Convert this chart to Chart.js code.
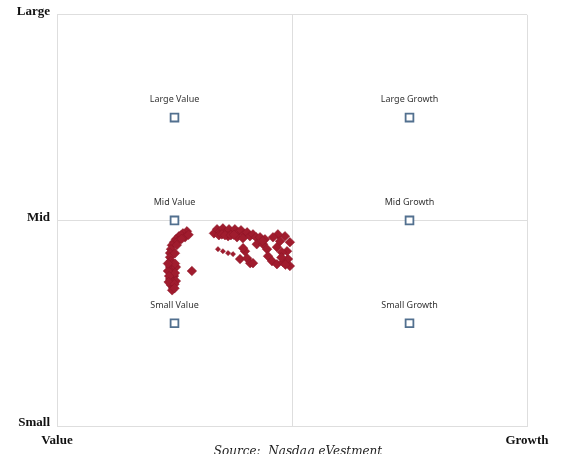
<!DOCTYPE html>
<html><head><meta charset="utf-8">
<script src="https://cdn.jsdelivr.net/npm/chart.js@4.4.1/dist/chart.umd.min.js"></script>
<style>html,body{margin:0;padding:0;background:#fff;overflow:hidden;width:563px;height:454px}canvas{display:block}</style>
</head><body>
<canvas id="c" width="563" height="454"></canvas>
<script>
// ---- data ----
const styleNames = ['Large Value','Large Growth','Mid Value','Mid Growth','Small Value','Small Growth'];
const styleX = [-0.5, 0.5, -0.5, 0.5, -0.5, 0.5];
const styleY = [0.5, 0.5, 0, 0, -0.5, -0.5];

const fundX = [
  -0.447,-0.464,-0.481,-0.494,-0.502,-0.511,-0.515,-0.519,-0.519,-0.515,-0.511,-0.519,-0.506,-0.515,-0.502,-0.519,-0.506,-0.515,-0.506,-0.494,-0.498,-0.494,-0.528,-0.523,-0.472,-0.455,-0.485,-0.426,
  -0.440,-0.470,-0.490,-0.498,-0.525,-0.500,-0.528,-0.498,-0.510,-0.500,
  -0.332,-0.319,-0.306,-0.294,-0.281,-0.268,-0.255,-0.243,-0.230,-0.217,-0.204,-0.191,-0.179,-0.166,-0.153,-0.311,-0.272,-0.234,-0.209,-0.298,-0.285,-0.260,-0.247,
  -0.221,-0.191,-0.200,-0.208,-0.178,-0.166,-0.150,
  -0.136,-0.123,-0.106,-0.102,-0.085,-0.064,-0.038,-0.017,-0.030,-0.060,-0.081,-0.009,-0.021,-0.043,-0.064,-0.009,-0.115,-0.051,-0.125,-0.045,-0.028
];
const fundY = [
  -0.053,-0.063,-0.077,-0.092,-0.106,-0.121,-0.140,-0.159,-0.179,-0.198,-0.213,-0.227,-0.237,-0.256,-0.271,-0.285,-0.300,-0.314,-0.329,-0.227,-0.256,-0.295,-0.246,-0.271,-0.072,-0.082,-0.101,-0.246,
  -0.070,-0.090,-0.120,-0.210,-0.300,-0.310,-0.210,-0.160,-0.340,-0.330,
  -0.063,-0.043,-0.053,-0.039,-0.058,-0.043,-0.063,-0.043,-0.058,-0.048,-0.068,-0.058,-0.077,-0.068,-0.082,-0.072,-0.077,-0.082,-0.087,-0.068,-0.072,-0.072,-0.070,
  -0.188,-0.184,-0.150,-0.135,-0.208,-0.208,-0.116,
  -0.082,-0.116,-0.140,-0.174,-0.198,-0.213,-0.203,-0.188,-0.077,-0.068,-0.082,-0.106,-0.150,-0.155,-0.130,-0.222,-0.092,-0.101,-0.100,-0.180,-0.215
];
// small dotted tail of funds below the middle group
const tailX = [-0.315, -0.294, -0.272, -0.251];
const tailY = [-0.140, -0.150, -0.159, -0.164];

const xTickValues = [-1, 0, 1];
const xTickLabels = ['Value', '', 'Growth'];
const yTickValues = [-1, 0, 1];
const yTickLabels = ['Small', 'Mid', 'Large'];
const sourceText = 'Source:  Nasdaq eVestment';

// ---- chart ----
const stylePts = styleX.map((x, i) => ({x: x, y: styleY[i]}));
const fundPts = fundX.map((x, i) => ({x: x, y: fundY[i]}));
const tailPts = tailX.map((x, i) => ({x: x, y: tailY[i]}));

const labelPlugin = {
  id: 'labels',
  afterDatasetsDraw(chart) {
    const ctx = chart.ctx;
    const meta = chart.getDatasetMeta(2);
    ctx.save();
    ctx.font = '9px "Noto Sans", sans-serif';
    ctx.fillStyle = '#333';
    ctx.textAlign = 'center';
    ctx.textBaseline = 'middle';
    meta.data.forEach((el, i) => {
      ctx.fillText(styleNames[i], el.x, el.y - 18);
    });
    ctx.font = 'italic 12px "DejaVu Serif", serif';
    ctx.fillStyle = '#222';
    ctx.textBaseline = 'top';
    ctx.fillText(sourceText, 298, 446);
    ctx.restore();
  }
};

new Chart(document.getElementById('c'), {
  type: 'scatter',
  data: {
    datasets: [
      {
        label: 'Funds',
        data: fundPts,
        pointStyle: 'rectRot',
        pointRadius: 4.8,
        backgroundColor: '#a01c2e',
        borderColor: '#8a1526',
        borderWidth: 0.5
      },
      {
        label: 'Funds (tail)',
        data: tailPts,
        pointStyle: 'rectRot',
        pointRadius: 2.6,
        backgroundColor: '#a01c2e',
        borderColor: '#8a1526',
        borderWidth: 0.5
      },
      {
        label: 'Styles',
        data: stylePts,
        pointStyle: 'rect',
        pointRadius: 5.5,
        backgroundColor: '#ffffff',
        borderColor: '#52708f',
        borderWidth: 1.8
      }
    ]
  },
  options: {
    responsive: false,
    animation: false,
    layout: {padding: {top: 9, right: 36, left: 0, bottom: 0}},
    plugins: {legend: {display: false}, tooltip: {enabled: false}},
    scales: {
      x: {
        type: 'linear', min: -1, max: 1,
        afterBuildTicks: s => { s.ticks = xTickValues.map(v => ({value: v})); },
        afterFit: s => { s.height = 28; },
        ticks: {
          callback: (v, i) => xTickLabels[i],
          padding: 7,
          maxRotation: 0, autoSkip: false,
          font: {family: '"Liberation Serif", serif', size: 13, weight: 'bold'},
          color: '#111'
        },
        grid: {color: '#dedede', drawTicks: false},
        border: {color: '#dedede'}
      },
      y: {
        type: 'linear', min: -1, max: 1,
        afterBuildTicks: s => { s.ticks = yTickValues.map(v => ({value: v})); },
        afterFit: s => { s.width = 57; },
        ticks: {
          callback: (v, i) => yTickLabels[i],
          padding: 7,
          labelOffset: -3,
          autoSkip: false,
          font: {family: '"Liberation Serif", serif', size: 13, weight: 'bold'},
          color: '#111'
        },
        grid: {color: '#dedede', drawTicks: false},
        border: {color: '#dedede'}
      }
    }
  },
  plugins: [labelPlugin]
});
</script>
</body></html>
